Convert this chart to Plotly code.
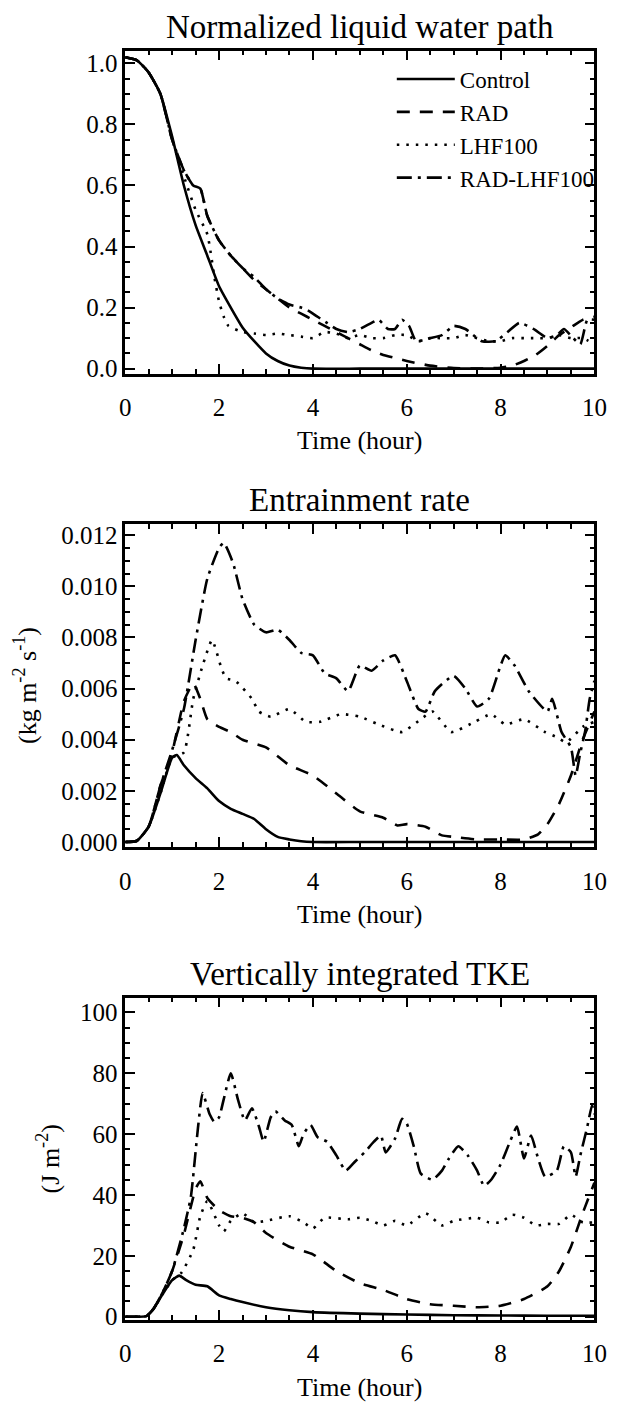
import plotly.graph_objects as go

# ---------------- data ----------------
# Panel 1: Normalized liquid water path
t_lwp_ctrl = [0, 0.25, 0.5, 0.75, 1.0, 1.25, 1.5, 1.75, 2.0, 2.25, 2.5, 2.75, 3.0, 3.25, 3.5, 3.75, 4.0, 5, 6, 7, 8, 9, 10]
lwp_ctrl = [1.02, 1.01, 0.97, 0.9, 0.76, 0.6, 0.47, 0.37, 0.27, 0.2, 0.135, 0.09, 0.05, 0.025, 0.01, 0.003, 0.0, 0, 0, 0, 0, 0, 0]

t_lwp_rad = [0, 0.25, 0.5, 0.75, 1.0, 1.25, 1.45, 1.6, 1.75, 2.0, 2.25, 2.5, 2.75, 3.0, 3.25, 3.5, 3.75, 4.0, 4.25, 4.5,
             4.75, 5.0, 5.25, 5.5, 5.75, 6.0, 6.5, 7.0, 7.5, 8.0, 8.25, 8.5, 8.75, 9.0, 9.25, 9.5, 9.75, 10]
lwp_rad = [1.02, 1.01, 0.97, 0.9, 0.75, 0.65, 0.6, 0.59, 0.5, 0.42, 0.37, 0.33, 0.29, 0.26, 0.23, 0.2, 0.18, 0.16, 0.14, 0.12,
           0.1, 0.08, 0.06, 0.045, 0.035, 0.025, 0.01, 0.002, 0.0, 0.003, 0.01, 0.025, 0.045, 0.075, 0.11, 0.135, 0.16, 0.17]

t_lwp_lhf = [0, 0.25, 0.5, 0.75, 1.0, 1.25, 1.5, 1.75, 1.9, 2.0, 2.1, 2.2, 2.5, 2.75, 3.0, 3.25, 3.5, 3.75, 4.0, 4.25, 4.5,
             4.75, 5.0, 5.25, 5.5, 5.75, 6.0, 6.25, 6.5, 6.75, 7.0, 7.25, 7.5, 7.75, 8.0, 8.25, 8.5, 8.75, 9.0, 9.25, 9.5,
             9.75, 10]
lwp_lhf = [1.02, 1.01, 0.97, 0.9, 0.75, 0.63, 0.52, 0.44, 0.3, 0.22, 0.17, 0.14, 0.12, 0.115, 0.11, 0.115, 0.11, 0.105, 0.1,
           0.12, 0.115, 0.1, 0.11, 0.1, 0.1, 0.11, 0.11, 0.09, 0.1, 0.1, 0.1, 0.11, 0.1, 0.09, 0.09, 0.1, 0.1, 0.1, 0.1, 0.11,
           0.1, 0.1, 0.08]

t_lwp_radlhf = [0, 0.25, 0.5, 0.75, 1.0, 1.25, 1.45, 1.6, 1.75, 2.0, 2.25, 2.5, 2.75, 3.0, 3.25, 3.5, 3.75, 3.9, 4.1, 4.3,
                4.5, 4.75, 5.0, 5.25, 5.4, 5.6, 5.75, 5.9, 6.05, 6.2, 6.5, 6.75, 7.0, 7.25, 7.6, 7.9, 8.15, 8.4, 8.7, 9.0,
                9.2, 9.35, 9.55, 9.7, 9.85, 10]
lwp_radlhf = [1.02, 1.01, 0.97, 0.9, 0.75, 0.65, 0.6, 0.59, 0.5, 0.42, 0.37, 0.33, 0.3, 0.26, 0.23, 0.21, 0.2, 0.19, 0.17,
              0.15, 0.13, 0.12, 0.13, 0.15, 0.16, 0.13, 0.13, 0.16, 0.14, 0.09, 0.1, 0.11, 0.14, 0.13, 0.09, 0.09, 0.12,
              0.15, 0.13, 0.1, 0.11, 0.13, 0.1, 0.08, 0.16, 0.16]

# Panel 2: Entrainment rate (kg m-2 s-1)
t_ent_ctrl = [0, 0.25, 0.5, 0.75, 1.0, 1.1, 1.25, 1.5, 1.75, 2.0, 2.25, 2.5, 2.75, 3.0, 3.25, 3.5, 3.75, 4.0, 5, 6, 7, 8, 9, 10]
ent_ctrl = [0, 0.00005, 0.0006, 0.0019, 0.0033, 0.0034, 0.003, 0.0025, 0.0021, 0.0016, 0.0013, 0.0011, 0.0009, 0.0005,
            0.0002, 0.0001, 0.00003, 0, 0, 0, 0, 0, 0, 0]

t_ent_rad = [0, 0.25, 0.5, 0.75, 1.0, 1.25, 1.45, 1.6, 1.75, 2.0, 2.25, 2.5, 3.0, 3.5, 4.0, 4.5, 5.0, 5.5, 5.8, 6.0, 6.4,
             6.75, 7.0, 7.5, 8.0, 8.5, 8.8, 9.0, 9.25, 9.5, 9.75, 10]
ent_rad = [0, 0.00005, 0.0006, 0.0022, 0.0035, 0.0055, 0.0062, 0.0056, 0.0048, 0.0045, 0.0043, 0.004, 0.0037, 0.003,
           0.0026, 0.0019, 0.0012, 0.00095, 0.00065, 0.0007, 0.0006, 0.00026, 0.0002, 0.0001, 0.0001, 0.0001, 0.0003,
           0.0007, 0.0015, 0.0026, 0.004, 0.0051]

t_ent_lhf = [0, 0.25, 0.5, 0.75, 1.0, 1.25, 1.45, 1.65, 1.85, 2.05, 2.15, 2.35, 2.7, 2.85, 3.1, 3.5, 3.85, 4.15, 4.6, 5.0,
             5.4, 5.9, 6.3, 6.55, 6.95, 7.45, 7.8, 8.1, 8.5, 8.95, 9.2, 9.4, 9.75, 10]
ent_lhf = [0, 0.00005, 0.0006, 0.0019, 0.0033, 0.0035, 0.0056, 0.0069, 0.0079, 0.0068, 0.0064, 0.0063, 0.0056, 0.0051,
           0.0049, 0.0052, 0.0047, 0.0047, 0.005, 0.0049, 0.0046, 0.0043, 0.0048, 0.0051, 0.0043, 0.0047, 0.005, 0.0046,
           0.0048, 0.0043, 0.0041, 0.0039, 0.0045, 0.0047]

t_ent_radlhf = [0, 0.25, 0.5, 0.75, 1.0, 1.25, 1.5, 1.75, 2.0, 2.1, 2.3, 2.5, 2.75, 3.0, 3.25, 3.5, 3.75, 4.0, 4.25, 4.5,
                4.75, 5.0, 5.25, 5.5, 5.75, 6.0, 6.25, 6.4, 6.6, 7.0, 7.25, 7.5, 7.75, 8.0, 8.1, 8.3, 8.6, 9.0, 9.1, 9.3,
                9.5, 9.6, 9.7, 9.8, 9.9, 10]
ent_radlhf = [0, 0.00005, 0.0006, 0.0022, 0.0036, 0.0052, 0.0079, 0.0103, 0.0115, 0.0117, 0.0109, 0.0095, 0.0085, 0.0082,
              0.0083, 0.0079, 0.0074, 0.0073, 0.0066, 0.0064, 0.0059, 0.0069, 0.0067, 0.0071, 0.0073, 0.0063, 0.0052,
              0.0051, 0.0059, 0.0065, 0.006, 0.0053, 0.0056, 0.0069, 0.0073, 0.0069, 0.0059, 0.0051, 0.0056, 0.0043,
              0.0037, 0.0026, 0.0035, 0.0043, 0.0056, 0.0063]

# Panel 3: Vertically integrated TKE (J m-2)
t_tke_ctrl = [0, 0.25, 0.45, 0.6, 0.8, 1.0, 1.15, 1.3, 1.5, 1.75, 2.0, 2.25, 2.5, 3.0, 3.5, 4.0, 5.0, 6.0, 7.0, 8.0, 9.0, 10]
tke_ctrl = [0, 0, 0.2, 2.5, 7.5, 12, 13.5, 12, 10.5, 10, 7, 5.8, 4.8, 3.1, 2.1, 1.5, 1.0, 0.7, 0.5, 0.4, 0.3, 0.3]

t_tke_rad = [0, 0.25, 0.45, 0.6, 0.8, 1.0, 1.25, 1.5, 1.6, 1.75, 2.0, 2.25, 2.5, 2.75, 3.0, 3.5, 4.0, 4.5, 5.0, 5.5, 6.0,
             6.5, 7.0, 7.5, 8.0, 8.5, 9.0, 9.25, 9.5, 9.75, 10]
tke_rad = [0, 0, 0.2, 2.5, 8, 15, 27, 42, 44.5, 39, 35, 33, 32.5, 31, 27.5, 23, 20.5, 15, 11, 8.8, 5.8, 4.1, 3.6, 3.1,
           3.6, 5.8, 10, 15, 23, 34, 44]

t_tke_lhf = [0, 0.25, 0.45, 0.6, 0.8, 1.0, 1.2, 1.45, 1.6, 1.75, 2.0, 2.1, 2.25, 2.5, 2.75, 3.0, 3.5, 3.8, 4.0, 4.25, 4.75,
             5.0, 5.25, 5.5, 5.75, 6.0, 6.4, 6.75, 7.0, 7.5, 7.75, 8.0, 8.25, 8.5, 8.75, 9.0, 9.25, 9.5, 9.75, 10]
tke_lhf = [0, 0, 0.2, 2.5, 7.5, 12, 14.5, 22, 33, 38, 30, 28, 31.5, 34, 31, 31.5, 33, 31, 29, 32.5, 32, 32.5, 31.5, 30,
           31.5, 30, 34, 30, 31.5, 32.5, 31, 31, 33.5, 32.5, 30, 30.5, 30.5, 33.5, 31, 31]

t_tke_radlhf = [0, 0.25, 0.45, 0.6, 0.8, 1.0, 1.25, 1.4, 1.55, 1.65, 1.8, 1.9, 2.0, 2.1, 2.25, 2.4, 2.55, 2.7, 2.85, 2.95,
                3.1, 3.2, 3.4, 3.55, 3.7, 3.8, 3.95, 4.1, 4.3, 4.5, 4.7, 4.9, 5.1, 5.3, 5.45, 5.55, 5.75, 5.9, 6.0, 6.15,
                6.3, 6.55, 6.75, 6.9, 7.1, 7.3, 7.5, 7.65, 7.8, 8.0, 8.2, 8.35, 8.5, 8.65, 8.8, 8.95, 9.2, 9.35, 9.5,
                9.6, 9.7, 9.85, 9.95, 10]
tke_radlhf = [0, 0, 0.2, 2.5, 8, 15, 29, 39.5, 62, 73.5, 66.5, 64, 65.5, 71.5, 80, 71.5, 64.5, 68.5, 62.5, 57.5, 65.5,
              67.5, 64.5, 63, 56, 60, 63, 59, 57.5, 53, 48, 51, 54, 57.5, 59.5, 54, 58.5, 65, 63.5, 56, 47, 45, 48, 52,
              56, 53, 48, 43, 45, 50, 57.5, 62.5, 52, 59.5, 52, 46, 48, 56, 54, 46, 53, 62.5, 69.5, 66.5]

series_names = ["Control", "RAD", "LHF100", "RAD-LHF100"]
dash_styles = ["solid", "13px,10px", "2.5px,7px", "15px,6px,3px,6px"]

panels = [
    [(t_lwp_ctrl, lwp_ctrl), (t_lwp_rad, lwp_rad), (t_lwp_lhf, lwp_lhf), (t_lwp_radlhf, lwp_radlhf)],
    [(t_ent_ctrl, ent_ctrl), (t_ent_rad, ent_rad), (t_ent_lhf, ent_lhf), (t_ent_radlhf, ent_radlhf)],
    [(t_tke_ctrl, tke_ctrl), (t_tke_rad, tke_rad), (t_tke_lhf, tke_lhf), (t_tke_radlhf, tke_radlhf)],
]
panel_titles = ["Normalized liquid water path", "Entrainment rate", "Vertically integrated TKE"]
y_titles = [None, "(kg m<sup>-2</sup> s<sup>-1</sup>)", "(J m<sup>-2</sup>)"]
y_ranges = [[-0.016, 1.042], [-0.0002, 0.01243], [-1.0, 104.8]]
y_dticks = [0.2, 0.002, 20]
y_minor = [0.05, 0.0005, 5]
y_formats = [".1f", ".3f", "d"]

# ---------------- layout geometry (pixels) ----------------
W, H = 620, 1411
x_left, x_right = 123, 607
frames = [(49, 375), (527, 853), (1005, 1330)]
FONT = "Liberation Serif, 'Times New Roman', Times, 'DejaVu Serif', serif"
TICK_SIZE = 25


def py(y):
    return 1 - y / H


fig = go.Figure()
for i, panel in enumerate(panels):
    ax = "" if i == 0 else str(i + 1)
    for j, (tt, vv) in enumerate(panel):
        fig.add_trace(go.Scatter(
            x=tt, y=vv, mode="lines", name=series_names[j],
            line=dict(color="black", width=2.6, dash=dash_styles[j], shape="spline", smoothing=0.5),
            xaxis="x" + ax, yaxis="y" + ax,
            showlegend=(i == 0), legendgroup=series_names[j],
        ))

layout = dict(
    width=W, height=H, margin=dict(l=0, r=0, t=0, b=0),
    paper_bgcolor="white", plot_bgcolor="white",
    font=dict(family=FONT, color="black", size=26),
    showlegend=True,
    legend=dict(x=398 / W, y=py(56), xanchor="left", yanchor="top",
                bgcolor="rgba(0,0,0,0)", font=dict(size=23, family=FONT, color="black"),
                itemwidth=58, tracegroupgap=0),
)
annotations = []
for i in range(3):
    ax = "" if i == 0 else str(i + 1)
    top, bot = frames[i]
    common = dict(showline=True, linecolor="black", linewidth=2.5, mirror="allticks",
                  ticks="inside", ticklen=10, tickwidth=2, tickcolor="black",
                  showgrid=False, zeroline=False, tickfont=dict(size=TICK_SIZE, family=FONT, color="black"))
    layout["xaxis" + ax] = dict(
        domain=[x_left / W, x_right / W], range=[0, 10], dtick=2, tick0=0,
        anchor="y" + ax, ticklabelstandoff=10,
        minor=dict(ticks="inside", ticklen=5, dtick=0.5, tickwidth=2, tickcolor="black"),
        **common)
    layout["yaxis" + ax] = dict(
        domain=[py(bot), py(top)], range=y_ranges[i], dtick=y_dticks[i], tick0=0,
        tickformat=y_formats[i], anchor="x" + ax,
        minor=dict(ticks="inside", ticklen=5, dtick=y_minor[i], tickwidth=2, tickcolor="black"),
        **common)
    xc = (x_left + x_right) / 2 / W
    annotations.append(dict(text=panel_titles[i], x=xc, y=py(top - 24), xref="paper", yref="paper",
                            showarrow=False, font=dict(size=33, family=FONT, color="black"),
                            xanchor="center", yanchor="middle"))
    annotations.append(dict(text="Time (hour)", x=xc, y=py(bot + 68), xref="paper", yref="paper",
                            showarrow=False, font=dict(size=26, family=FONT, color="black"),
                            xanchor="center", yanchor="middle"))
    if y_titles[i]:
        xpos = 20 if i == 1 else 44
        annotations.append(dict(text=y_titles[i], x=xpos / W, y=py((top + bot) / 2), xref="paper", yref="paper",
                                showarrow=False, textangle=-90, font=dict(size=26, family=FONT, color="black"),
                                xanchor="center", yanchor="middle"))
layout["annotations"] = annotations
fig.update_layout(**layout)
fig.write_html("out.html")
